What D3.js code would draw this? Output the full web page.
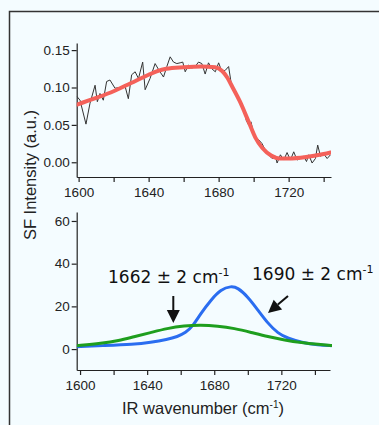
<!DOCTYPE html>
<html>
<head>
<meta charset="utf-8">
<script src="https://cdn.jsdelivr.net/npm/d3@7"></script>
<style>
  html, body { margin: 0; padding: 0; background: #f4fcff; }
  svg { display: block; }
  .axis text { font-family: "Liberation Sans", Arial, sans-serif; font-size: 13.5px; fill: #222; }
  .axis path, .axis line { stroke: #222; stroke-width: 1.2; }
</style>
</head>
<body>
<svg id="chart" width="379" height="425"></svg>
<script>
// top panel: measured SF spectrum (noisy) and its fit
const rawWn = [1599, 1600.8, 1604.2, 1606.5, 1609.4, 1610.7, 1612.2, 1614.1, 1616, 1617.9,
  1620.8, 1623.7, 1626.5, 1628.4, 1630.3, 1632.3, 1634.2, 1636.6, 1638, 1640.8,
  1643.7, 1646.2, 1648.5, 1650.4, 1652.3, 1654.2, 1656.1, 1658, 1659.5, 1660.9,
  1662.8, 1664.7, 1666.6, 1668.5, 1670.4, 1672.3, 1674.2, 1676.1, 1678.1, 1680,
  1681.9, 1683.8, 1685.7, 1687.6, 1689.5, 1691.4, 1692.7, 1694.3, 1695.8, 1697.1,
  1698.5, 1700, 1701.5, 1702.9, 1704.8, 1706.7, 1708.6, 1710.5, 1712.4, 1713.4,
  1715.3, 1717.2, 1719.1, 1721, 1722.9, 1724.8, 1726.7, 1728.6, 1730.2, 1731.5,
  1733.4, 1735.3, 1736.6, 1738.2, 1740.1, 1742, 1743.9];
const rawSF = [0.088, 0.083, 0.051, 0.079, 0.103, 0.081, 0.092, 0.083, 0.108, 0.110,
  0.099, 0.100, 0.102, 0.085, 0.117, 0.121, 0.112, 0.134, 0.097, 0.112,
  0.132, 0.122, 0.114, 0.128, 0.141, 0.134, 0.132, 0.133, 0.134, 0.121,
  0.130, 0.126, 0.128, 0.134, 0.132, 0.118, 0.133, 0.125, 0.121, 0.133,
  0.121, 0.123, 0.128, 0.099, 0.092, 0.085, 0.079, 0.072, 0.056, 0.050,
  0.054, 0.038, 0.032, 0.030, 0.025, 0.016, 0.010, 0.005, 0.008, -0.001,
  0.010, 0.003, 0.013, 0.003, 0.014, 0.003, 0.005, 0.008, 0.001, 0.010,
  -0.001, 0.005, 0.023, 0.008, 0.011, 0.005, 0.010];

const fitWn = [1599, 1610, 1620, 1630, 1640, 1645, 1650, 1660, 1670, 1678, 1682, 1685,
  1688, 1692, 1697, 1701, 1705, 1710, 1715, 1720, 1730, 1740, 1744];
const fitSF = [0.077, 0.086, 0.095, 0.106, 0.117, 0.122, 0.125, 0.127, 0.128, 0.127, 0.122, 0.113,
  0.100, 0.082, 0.055, 0.033, 0.019, 0.009, 0.005, 0.005, 0.007, 0.011, 0.013];

// bottom panel: fitted resonances
const peakWn = [1598, 1613, 1632, 1642, 1652, 1658, 1663, 1667, 1672, 1678, 1684, 1690,
  1694, 1700, 1706, 1712, 1718, 1724, 1732, 1742, 1750];
const blueAmp = [1.1, 1.6, 2.2, 3.1, 4.5, 5.8, 7.7, 10.5, 16.7, 23, 28, 29.5,
  28.8, 24.5, 18.3, 12, 7.3, 5, 3.1, 1.9, 1.6];
const broadWn = [1598, 1613, 1623, 1632, 1642, 1652, 1662, 1672, 1682, 1692, 1702, 1712,
  1722, 1732, 1742, 1751];
const greenAmp = [1.6, 2.7, 3.9, 5.8, 7.7, 9.7, 10.9, 11.3, 10.8, 9.7, 7.8, 5.8,
  4.2, 3.0, 2.2, 1.6];

const xTicks = [1600, 1620, 1640, 1660, 1680, 1700, 1720, 1740];
const topYTicks = [0, 0.05, 0.10, 0.15];
const botYTicks = [0, 20, 40, 60];
const labels = [
  { text: "1662 \u00b1 2 cm", x: 108, y: 283 },
  { text: "1690 \u00b1 2 cm", x: 252, y: 280 }
];

const svg = d3.select("#chart");

// frame
svg.append("rect")
  .attr("x", 9.5).attr("y", 11.5)
  .attr("width", 400).attr("height", 450)
  .attr("fill", "none").attr("stroke", "#333").attr("stroke-width", 1.5);

const defs = svg.append("defs");

// ---- top panel
const xTop = d3.scaleLinear().domain([1598.9, 1744.2]).range([76.7, 331]);
const yTop = d3.scaleLinear().domain([-0.0197, 0.1595]).range([177, 43]);

defs.append("clipPath").attr("id", "clipTop").append("rect")
  .attr("x", 76.7).attr("y", 30).attr("width", 331 - 76.7).attr("height", 147);

svg.append("g").attr("class", "axis")
  .attr("transform", "translate(0,177)")
  .call(d3.axisBottom(xTop).tickValues(xTicks).tickSize(5).tickSizeOuter(0).tickPadding(5)
    .tickFormat(d => d % 40 === 0 ? d : ""));

svg.append("g").attr("class", "axis")
  .attr("transform", "translate(76.7,0)")
  .call(d3.axisLeft(yTop).tickValues(topYTicks).tickSize(5).tickSizeOuter(0).tickPadding(2)
    .tickFormat(d3.format(".2f")));

const gTop = svg.append("g").attr("clip-path", "url(#clipTop)");

gTop.append("path")
  .datum(d3.zip(rawWn, rawSF))
  .attr("fill", "none").attr("stroke", "#333").attr("stroke-width", 1)
  .attr("d", d3.line().x(d => xTop(d[0])).y(d => yTop(d[1])));

gTop.append("path")
  .datum(d3.zip(fitWn, fitSF))
  .attr("fill", "none").attr("stroke", "#f4615a").attr("stroke-width", 4)
  .attr("stroke-linecap", "round")
  .attr("d", d3.line().curve(d3.curveMonotoneX).x(d => xTop(d[0])).y(d => yTop(d[1])));

// ---- bottom panel
const xBot = d3.scaleLinear().domain([1598, 1749]).range([76.7, 330]);
const yBot = d3.scaleLinear().domain([-9.8, 64.2]).range([370, 212]);

defs.append("clipPath").attr("id", "clipBot").append("rect")
  .attr("x", 76.7).attr("y", 200).attr("width", 330 - 76.7 + 2).attr("height", 170);

svg.append("g").attr("class", "axis")
  .attr("transform", "translate(0,370)")
  .call(d3.axisBottom(xBot).tickValues(xTicks).tickSize(5).tickSizeOuter(0).tickPadding(5)
    .tickFormat(d => d % 40 === 0 ? d : ""));

svg.append("g").attr("class", "axis")
  .attr("transform", "translate(76.7,0)")
  .call(d3.axisLeft(yBot).tickValues(botYTicks).tickSize(5).tickSizeOuter(0).tickPadding(2));

const gBot = svg.append("g").attr("clip-path", "url(#clipBot)");

gBot.append("path")
  .datum(d3.zip(peakWn, blueAmp))
  .attr("fill", "none").attr("stroke", "#2a6df0").attr("stroke-width", 3)
  .attr("d", d3.line().curve(d3.curveBasis).x(d => xBot(d[0])).y(d => yBot(d[1])));

gBot.append("path")
  .datum(d3.zip(broadWn, greenAmp))
  .attr("fill", "none").attr("stroke", "#1e9e1e").attr("stroke-width", 3)
  .attr("d", d3.line().curve(d3.curveBasis).x(d => xBot(d[0])).y(d => yBot(d[1])));

// annotations
labels.forEach(l => {
  const t = svg.append("text")
    .attr("x", l.x).attr("y", l.y)
    .attr("font-family", "DejaVu Sans, Verdana, sans-serif")
    .attr("font-size", 17).attr("fill", "#111")
    .text(l.text);
  t.append("tspan").attr("font-size", 11).attr("dy", -7).text("-1");
});

// arrows
function arrow(x1, y1, x2, y2) {
  const ang = Math.atan2(y2 - y1, x2 - x1);
  const hl = 13, hw = 6.5;
  const bx = x2 - hl * Math.cos(ang), by = y2 - hl * Math.sin(ang);
  svg.append("line")
    .attr("x1", x1).attr("y1", y1).attr("x2", bx).attr("y2", by)
    .attr("stroke", "#111").attr("stroke-width", 2);
  const px = -Math.sin(ang) * hw, py = Math.cos(ang) * hw;
  svg.append("path")
    .attr("d", `M${x2},${y2}L${bx + px},${by + py}L${bx - px},${by - py}Z`)
    .attr("fill", "#111");
}
arrow(173.3, 296, 173.3, 323);
arrow(288, 296, 268, 313);

// axis titles
svg.append("text")
  .attr("transform", "translate(36,175) rotate(-90)")
  .attr("text-anchor", "middle")
  .attr("font-family", "Liberation Sans, Arial, sans-serif")
  .attr("font-size", 16.5).attr("fill", "#222")
  .text("SF Intensity (a.u.)");

const xt = svg.append("text")
  .attr("x", 203).attr("y", 414)
  .attr("text-anchor", "middle")
  .attr("font-family", "Liberation Sans, Arial, sans-serif")
  .attr("font-size", 16.5).attr("fill", "#222")
  .text("IR wavenumber (cm");
xt.append("tspan").attr("font-size", 10).attr("dy", -6).text("-1");
xt.append("tspan").attr("dy", 6).text(")");
</script>
</body>
</html>
